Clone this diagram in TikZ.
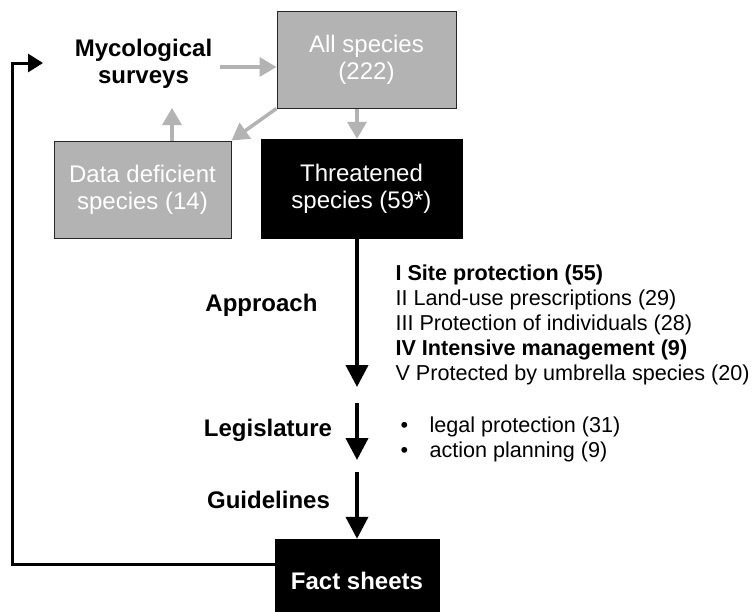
\documentclass[tikz,border=0pt]{standalone}
\usepackage{fontspec}
\setmainfont{Liberation Sans}
\usetikzlibrary{arrows.meta}
\definecolor{boxgrey}{HTML}{B3B3B3}

\begin{document}
\begin{tikzpicture}[x=1pt, y=-1pt,
        greybox/.style={rectangle, draw=black!85, line width=1pt, fill=boxgrey, text=white, align=center, font=\fontsize{24}{27}\selectfont},
        blackbox/.style={rectangle, draw, fill=black, text=white, align=center, font=\fontsize{24}{27}\selectfont},
        flowlabel/.style={font=\fontsize{24}{27}\selectfont\bfseries, align=center},
        list/.style={font=\fontsize{21.6}{25}\selectfont, align=left, anchor=north west},
        greyarrow/.style={draw=boxgrey, line width=3.5pt, -{Triangle[width=19pt,length=17pt]}},
        mainarrow/.style={line width=4pt, -{Triangle[width=22pt,length=22pt]}},
        backarrow/.style={line width=3pt, -{Triangle[width=18pt,length=15pt]}}]
        \useasboundingbox (0,0) rectangle (753,611);

        \node (surveys) [flowlabel, inner sep=8pt] at (143.5,64) {Mycological\\surveys};
        \node (all) [greybox, minimum width=179pt, minimum height=97pt] at (366.5,59.5) {All species\\(222)};
        \node (deficient) [greybox, minimum width=177pt, minimum height=97pt] at (142.5,189.5) {Data deficient\\species (14)};
        \node (threat) [blackbox, minimum width=201pt, minimum height=99pt] at (361.5,188.5) {Threatened\\species (59*)};
        \node (facts) [blackbox, minimum width=164pt, minimum height=84pt, font=\fontsize{24}{27}\selectfont\bfseries] at (357,581) {Fact sheets};

        \node (approach) [flowlabel] at (261.5,305) {Approach};
        \node (legislature) [flowlabel] at (268,430) {Legislature};
        \node (guidelines) [flowlabel] at (268.5,500) {Guidelines};

        \node (approaches) [list] at (392,261) {\textbf{I Site protection (55)}\\
            II Land-use prescriptions (29)\\
            III Protection of individuals (28)\\
            \textbf{IV Intensive management (9)}\\
            V Protected by umbrella species (20)};
        \node (laws) [list] at (397,413) {\makebox[29pt][l]{•}legal protection (31)\\
            \makebox[29pt][l]{•}action planning (9)};

        \coordinate (ddtip) at (172,108);
        \coordinate (apptip) at (357,387);
        \coordinate (legtail) at (357,403);
        \coordinate (legtip) at (357,460);
        \coordinate (guitail) at (357,472);
        \coordinate (loop) at (12,564);
        \coordinate (looptip) at (43,63);

        \draw [greyarrow] ([yshift=-3pt]surveys.east) -- ([yshift=-3pt]surveys.east -| all.west);
        \draw [greyarrow] (deficient.north -| ddtip) -- (ddtip);
        \draw [greyarrow] (all.south west) -- (deficient.north east);
        \draw [greyarrow] (all.south -| facts) -- (threat.north -| facts);

        \draw [mainarrow] (threat.south -| facts) -- (apptip);
        \draw [mainarrow] (legtail) -- (legtip);
        \draw [mainarrow] (guitail) -- (facts.north);
        \draw [backarrow] (facts.west |- loop) -- (loop) |- (looptip);
    \end{tikzpicture}
\end{document}
